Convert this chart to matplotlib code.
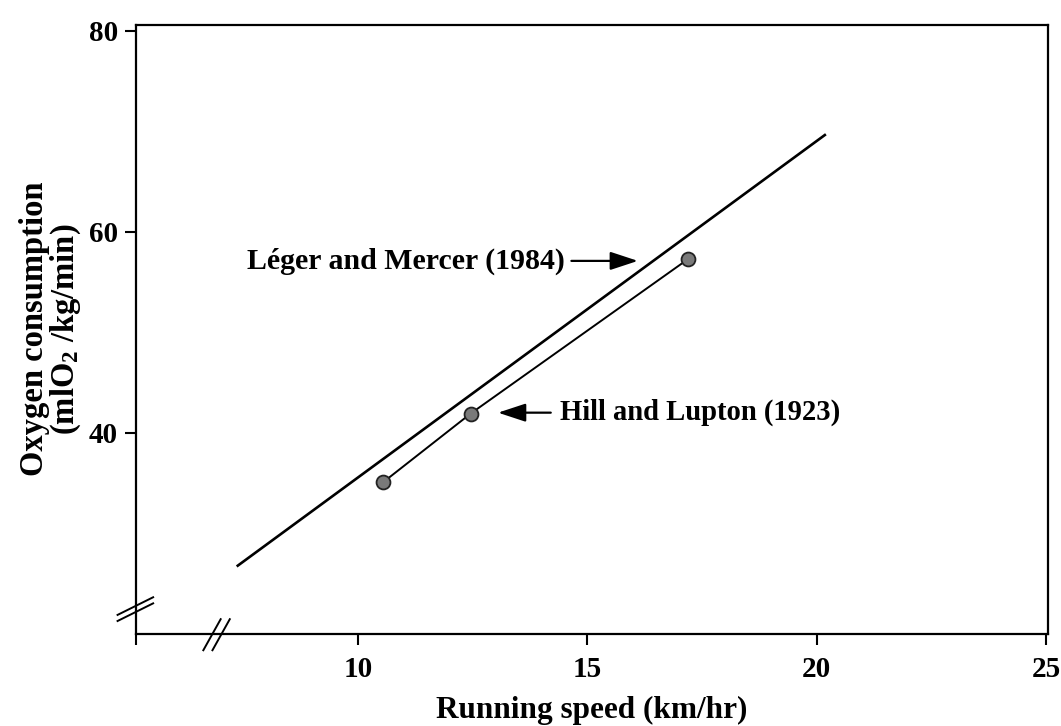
import matplotlib
matplotlib.use("Agg")
import matplotlib.pyplot as plt

# ---- data ----
leger_speed = [7.35, 20.2]
leger_vo2 = [26.7, 69.7]
hill_speed = [10.55, 12.45, 17.2]
hill_vo2 = [35.1, 41.9, 57.3]

x_ticks = [10, 15, 20, 25]
x_tick_labels = ["10", "15", "20", "25"]
y_ticks = [40, 60, 80]
y_tick_labels = ["40", "60", "80"]

leger_label = "Léger and Mercer (1984)"
hill_label = "Hill and Lupton (1923)"
x_label = "Running speed (km/hr)"
y_label = "Oxygen consumption\n(mlO$_2$ /kg/min)"

plt.rcParams["font.family"] = ["Liberation Serif", "DejaVu Serif"]
plt.rcParams["font.weight"] = "bold"
plt.rcParams["mathtext.fontset"] = "custom"
plt.rcParams["mathtext.rm"] = "Liberation Serif:bold"
plt.rcParams["mathtext.it"] = "Liberation Serif:bold"

fig = plt.figure(figsize=(10.61, 7.26), dpi=100)
ax = fig.add_axes([0.128, 0.127, 0.860, 0.839])

x0, x1 = 5.15, 25.05
ax.set_xlim(x0, x1)
ax.set_ylim(20, 80.6)

ax.plot(leger_speed, leger_vo2, color="black", lw=1.9, solid_capstyle="butt")
ax.plot(hill_speed, hill_vo2, color="black", lw=1.4, marker="o", ms=10,
        mfc="#7a7a7a", mec="#222222", mew=1.3)

# annotations
fs = 21
ax.text(14.5, 57.1, leger_label, ha="right", va="center", fontsize=21.5, fontweight="bold")
ax.annotate("", xy=(16.1, 57.1), xytext=(14.65, 57.1),
            arrowprops=dict(arrowstyle="-|>,head_length=0.85,head_width=0.28",
                            color="black", lw=1.6, mutation_scale=20,
                            shrinkA=0, shrinkB=0))
ax.text(14.4, 42.0, hill_label, ha="left", va="center", fontsize=20.6, fontweight="bold")
ax.annotate("", xy=(13.05, 42.0), xytext=(14.2, 42.0),
            arrowprops=dict(arrowstyle="-|>,head_length=0.85,head_width=0.28",
                            color="black", lw=1.6, mutation_scale=20,
                            shrinkA=0, shrinkB=0))

# ticks
ax.set_xticks([x0] + x_ticks)
ax.set_xticklabels([""] + x_tick_labels)
ax.set_yticks(y_ticks)
ax.set_yticklabels(y_tick_labels)
ax.tick_params(axis="both", direction="out", width=1.5, labelsize=fs)
ax.tick_params(axis="x", length=8, pad=8)
ax.tick_params(axis="y", length=8, pad=5)
for lab in ax.get_xticklabels() + ax.get_yticklabels():
    lab.set_fontweight("bold")

for s in ax.spines.values():
    s.set_linewidth(1.6)

ax.set_xlabel(x_label, fontsize=22.5, fontweight="bold", labelpad=9)
ax.set_ylabel(y_label, fontsize=23.5, fontweight="bold", labelpad=4, linespacing=0.95)

# axis break marks (axes coordinates)
tr = ax.transAxes
for dy in (0.0, -0.010):
    ax.plot([-0.020, 0.019], [0.031 + dy, 0.060 + dy], color="black", lw=1.4,
            transform=tr, clip_on=False)
for dx in (0.0, 0.010):
    ax.plot([0.074 + dx, 0.093 + dx], [-0.027, 0.024], color="black", lw=1.4,
            transform=tr, clip_on=False)

fig.savefig("out.png", dpi=100)
